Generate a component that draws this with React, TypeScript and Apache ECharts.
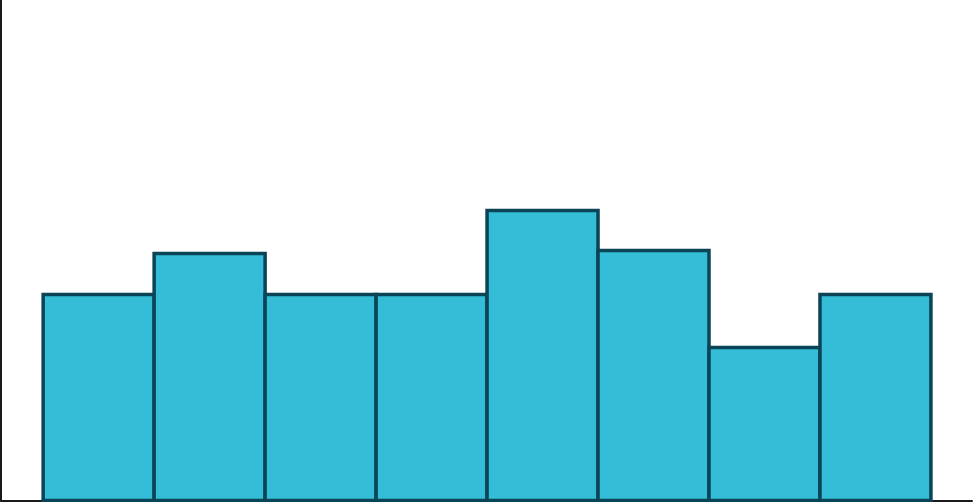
import * as echarts from "echarts";
import React, { useEffect, useRef } from "react";

// bin edges (8 bins of unit width) and the height of each bin
const binStarts = [0, 1, 2, 3, 4, 5, 6, 7];
const binEnds = [1, 2, 3, 4, 5, 6, 7, 8];
const binValues = [4.12, 4.94, 4.12, 4.12, 5.8, 5.0, 3.06, 4.12];

const HistogramChart: React.FC = () => {
  const chartRef = useRef<HTMLDivElement | null>(null);

  useEffect(() => {
    const chart = echarts.init(chartRef.current, null, { renderer: "svg" });
    chart.setOption({
      animation: false,
      grid: { left: 1, right: 1, top: 0.5, bottom: 1.5, containLabel: false },
      xAxis: {
        type: "value",
        min: -0.38,
        max: 8.37,
        axisLine: { show: true, onZero: false, lineStyle: { color: "#1a1a1a", width: 2 } },
        axisTick: { show: false },
        axisLabel: { show: false },
        splitLine: { show: false },
      },
      yAxis: {
        type: "value",
        min: 0,
        max: 10,
        axisLine: { show: true, onZero: false, lineStyle: { color: "#1a1a1a", width: 2 } },
        axisTick: { show: false },
        axisLabel: { show: false },
        splitLine: { show: false },
      },
      series: [
        {
          type: "custom",
          data: binValues.map((v, i) => [binStarts[i], binEnds[i], v]),
          encode: { x: [0, 1], y: 2 },
          renderItem: (params: any, api: any) => {
            const topLeft = api.coord([api.value(0), api.value(2)]);
            const bottomRight = api.coord([api.value(1), 0]);
            return {
              type: "rect",
              shape: {
                x: topLeft[0],
                y: topLeft[1],
                width: bottomRight[0] - topLeft[0],
                height: bottomRight[1] - topLeft[1],
              },
              style: { fill: "#35bdd8", stroke: "#0b4456", lineWidth: 3.5 },
            };
          },
        },
      ],
    });

    return () => {
      chart.dispose();
    };
  }, []);

  return (
    <div
      ref={chartRef}
      style={{ position: "fixed", left: 0, top: 0, width: 973, height: 502, background: "#fff" }}
    ></div>
  );
};

export default function App() {
  return <HistogramChart />;
}
